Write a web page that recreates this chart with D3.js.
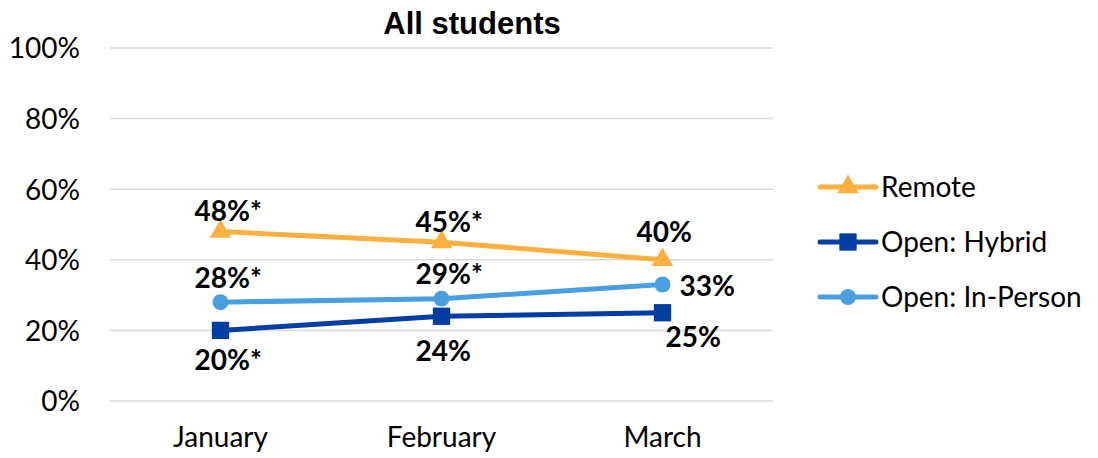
<!DOCTYPE html>
<html>
<head>
<meta charset="utf-8">
<script src="https://cdn.jsdelivr.net/npm/d3@7"></script>
<style>
body { margin: 0; background: #fff; }
svg { display: block; }
.tick text { font-family: Lato, "Open Sans", sans-serif; font-size: 28px; fill: #000; }
</style>
</head>
<body>
<div id="chart"></div>
<script>
(function(){

var width = 1098,
	height = 458;

// data
var months = ["January", "February", "March"];
var yTicks = [0, 0.2, 0.4, 0.6, 0.8, 1.0];
var seriesNames = ["Remote", "Open: Hybrid", "Open: In-Person"];
var remote = [0.48, 0.45, 0.40];
var hybrid = [0.20, 0.24, 0.25];
var inperson = [0.28, 0.29, 0.33];
var remoteLabels = ["48%*", "45%*", "40%"];
var hybridLabels = ["20%*", "24%", "25%"];
var inpersonLabels = ["28%*", "29%*", "33%"];

// label placement (style, not data)
var placeRemote = ["above", "above", "above2"];
var placeHybrid = ["below", "below2", "belowright"];
var placeInperson = ["above", "above", "right"];

var colors = ["#FBB040", "#003DA5", "#4A9FE0"];
var shapes = [d3.symbolTriangle, d3.symbolSquare, d3.symbolCircle];

var series = [
	{name: seriesNames[0], values: remote, labels: remoteLabels, place: placeRemote, color: colors[0], shape: shapes[0], size: 200},
	{name: seriesNames[1], values: hybrid, labels: hybridLabels, place: placeHybrid, color: colors[1], shape: shapes[1], size: 300},
	{name: seriesNames[2], values: inperson, labels: inpersonLabels, place: placeInperson, color: colors[2], shape: shapes[2], size: 200}
];

var X = d3.scaleBand().domain(months).range([110, 773]);
var Y = d3.scaleLinear().domain([0, 1]).range([401, 48]);

var svg = d3.select("#chart").append("svg")
	.attr("width", width)
	.attr("height", height);

// gridlines
svg.append("g").selectAll("line").data(yTicks).enter().append("line")
	.attr("x1", 110).attr("x2", 773)
	.attr("y1", function(d){ return Y(d); })
	.attr("y2", function(d){ return Y(d); })
	.style("stroke", "#d9d9d9")
	.style("stroke-width", 1.5);

var yAxis = svg.append("g")
	.attr("transform", "translate(92,0)")
	.call(d3.axisLeft(Y).tickValues(yTicks).tickFormat(d3.format(".0%")).tickSize(0).tickPadding(12));
yAxis.select(".domain").remove();
yAxis.selectAll(".tick text").attr("x", -12).attr("dy", "0.35em");

var xAxis = svg.append("g")
	.attr("transform", "translate(0,401)")
	.call(d3.axisBottom(X).tickSize(0).tickPadding(26));
xAxis.select(".domain").remove();

// title
svg.append("text")
	.attr("x", 472).attr("y", 34)
	.attr("text-anchor", "middle")
	.style("font-family", "Arial, 'Liberation Sans', sans-serif")
	.style("font-weight", "bold")
	.style("font-size", "31px")
	.text("All students");

var cx = function(i){ return X(months[i]) + X.bandwidth() / 2; };

var line = d3.line()
	.x(function(d, i){ return cx(i); })
	.y(function(d){ return Y(d); });

var g = svg.selectAll(".series").data(series).enter().append("g").attr("class", "series");

g.append("path")
	.attr("d", function(d){ return line(d.values); })
	.style("fill", "none")
	.style("stroke", function(d){ return d.color; })
	.style("stroke-width", 5);

g.each(function(s){
	d3.select(this).selectAll(".pt").data(s.values).enter().append("path")
		.attr("class", "pt")
		.attr("d", d3.symbol().type(s.shape).size(s.size))
		.attr("transform", function(d, i){ return "translate(" + cx(i) + "," + Y(d) + ")"; })
		.style("fill", s.color);

	d3.select(this).selectAll(".lab").data(s.values).enter().append("text")
		.attr("class", "lab")
		.attr("x", function(d, i){
			var p = s.place[i];
			if (p == "right") return cx(i) + 17;
			if (p == "belowright") return cx(i) + 3;
			return cx(i) - 26;
		})
		.attr("y", function(d, i){
			var p = s.place[i];
			if (p == "above") return Y(d) - (s.name == "Remote" ? 20 : 24);
			if (p == "above2") return Y(d) - 28;
			if (p == "below") return Y(d) + 30;
			if (p == "below2") return Y(d) + 35;
			if (p == "belowright") return Y(d) + 24;
			return Y(d) + 2;
		})
		.attr("dy", "0.35em")
		.style("font-family", "Lato, 'Open Sans', sans-serif")
		.style("font-weight", "bold")
		.style("font-size", "28px")
		.text(function(d, i){ return s.labels[i]; });
});

// legend
var legend = svg.selectAll(".legend").data(series).enter().append("g")
	.attr("class", "legend")
	.attr("transform", function(d, i){ return "translate(820," + (187 + i * 55) + ")"; });

legend.append("line")
	.attr("x1", 0).attr("x2", 56)
	.style("stroke", function(d){ return d.color; })
	.style("stroke-width", 5)
	.style("stroke-linecap", "round");

legend.append("path")
	.attr("d", function(d){ return d3.symbol().type(d.shape).size(d.size)(); })
	.attr("transform", "translate(28,0)")
	.style("fill", function(d){ return d.color; });

legend.append("text")
	.attr("x", 61).attr("dy", "0.35em")
	.style("font-family", "Lato, 'Open Sans', sans-serif")
	.style("font-size", "28px")
	.text(function(d){ return d.name; });

})()
</script>
</body>
</html>
